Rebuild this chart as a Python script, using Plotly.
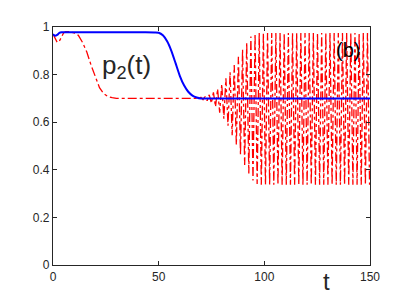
import plotly.graph_objects as go

# Blue solid curve
blue_t = [0, 1, 2, 3, 4, 6, 10, 20, 30, 40, 48, 50, 52, 54, 56, 58, 60, 62, 64, 66, 68, 70, 80, 100, 120, 150]
blue_v = [0.97, 0.963, 0.967, 0.975, 0.978, 0.978, 0.978, 0.978, 0.978, 0.978, 0.977, 0.976, 0.965, 0.94, 0.9,
          0.848, 0.795, 0.755, 0.728, 0.712, 0.704, 0.70, 0.70, 0.70, 0.70, 0.70]

# Red dash-dot curve: transient part
red_t_early = [0, 1, 2, 3, 4, 5, 6, 8, 10, 12, 14, 16, 18, 20, 22, 24, 26, 28, 30, 40, 50, 60, 69]
red_v_early = [0.97, 0.95, 0.935, 0.94, 0.96, 0.975, 0.98, 0.98, 0.975, 0.965, 0.935, 0.895, 0.84, 0.79,
               0.745, 0.72, 0.708, 0.703, 0.70, 0.70, 0.70, 0.70, 0.70]

# Red dash-dot curve: oscillation peaks (alternating maxima / minima)
red_t_osc = [70.00, 70.99, 71.97, 72.96, 73.94, 74.93, 75.91, 76.90, 77.88, 78.87, 79.85, 80.84, 81.82,
             82.81, 83.79, 84.78, 85.76, 86.75, 87.73, 88.72, 89.70, 90.69, 91.67, 92.66, 93.64, 94.63,
             95.61, 96.60, 97.58, 98.57, 99.55, 100.54, 101.52, 102.51, 103.49, 104.48, 105.46, 106.45,
             107.43, 108.42, 109.40, 110.39, 111.37, 112.36, 113.34, 114.33, 115.31, 116.30, 117.28,
             118.27, 119.25, 120.24, 121.22, 122.21, 123.19, 124.18, 125.16, 126.15, 127.13, 128.12,
             129.10, 130.09, 131.07, 132.06, 133.04, 134.03, 135.01, 136.00, 136.98, 137.97, 138.95,
             139.94, 140.92, 141.91, 142.89, 143.88, 144.86, 145.85, 146.83, 147.82, 148.80, 149.79]
red_v_osc = [0.705, 0.695, 0.708, 0.69, 0.715, 0.68, 0.725, 0.665, 0.74, 0.64, 0.76, 0.615, 0.785,
             0.585, 0.81, 0.545, 0.84, 0.505, 0.875, 0.465, 0.905, 0.42, 0.935, 0.385, 0.96, 0.355,
             0.972, 0.34, 0.975, 0.337, 0.975, 0.337, 0.975, 0.337, 0.975, 0.337, 0.975, 0.337,
             0.975, 0.337, 0.975, 0.337, 0.975, 0.337, 0.975, 0.337, 0.975, 0.337, 0.975,
             0.337, 0.975, 0.337, 0.975, 0.337, 0.975, 0.337, 0.975, 0.337, 0.975, 0.337,
             0.975, 0.337, 0.975, 0.337, 0.975, 0.337, 0.975, 0.337, 0.975, 0.337, 0.975,
             0.337, 0.975, 0.337, 0.975, 0.337, 0.975, 0.337, 0.975, 0.337, 0.975, 0.337]

x_ticks = [0, 50, 100, 150]
x_tick_labels = ["0", "50", "100", "150"]
y_ticks = [0, 0.2, 0.4, 0.6, 0.8, 1]
y_tick_labels = ["0", "0.2", "0.4", "0.6", "0.8", "1"]

red_t = red_t_early + red_t_osc
red_v = red_v_early + red_v_osc

fig = go.Figure()
fig.add_trace(go.Scatter(x=red_t, y=red_v, mode="lines",
                         line=dict(color="#ff0000", width=1.3, dash="dashdot"), showlegend=False))
fig.add_trace(go.Scatter(x=blue_t, y=blue_v, mode="lines",
                         line=dict(color="#0000ff", width=2, shape="spline", smoothing=0.6), showlegend=False))

axis_common = dict(showgrid=False, zeroline=False, showline=True, linecolor="#262626", linewidth=1.2,
                   mirror="ticks", ticks="inside", ticklen=4, tickcolor="#262626", tickwidth=1,
                   tickfont=dict(family="Liberation Sans, Arial", size=12, color="#262626"))

fig.update_xaxes(range=[0, 150], tickvals=x_ticks, ticktext=x_tick_labels, **axis_common)
fig.update_yaxes(range=[0, 1], tickvals=y_ticks, ticktext=y_tick_labels, **axis_common)

fig.add_annotation(x=35, y=0.835, xref="x", yref="y", text="p<sub>2</sub>(t)", showarrow=False,
                   font=dict(family="Liberation Sans, Arial", size=26, color="#262626"))
fig.add_annotation(x=139.5, y=0.905, xref="x", yref="y", text="(b)", showarrow=False,
                   font=dict(family="Liberation Sans, Arial", size=20, color="#000000"))
fig.add_annotation(x=129.5, y=-0.135, xref="x", yref="paper", text="t", showarrow=False,
                   font=dict(family="Liberation Sans, Arial", size=24, color="#262626"))

fig.update_layout(width=401, height=290, margin=dict(l=45, r=39, t=14, b=33),
                  paper_bgcolor="white", plot_bgcolor="white")

fig.write_html("out.html")
